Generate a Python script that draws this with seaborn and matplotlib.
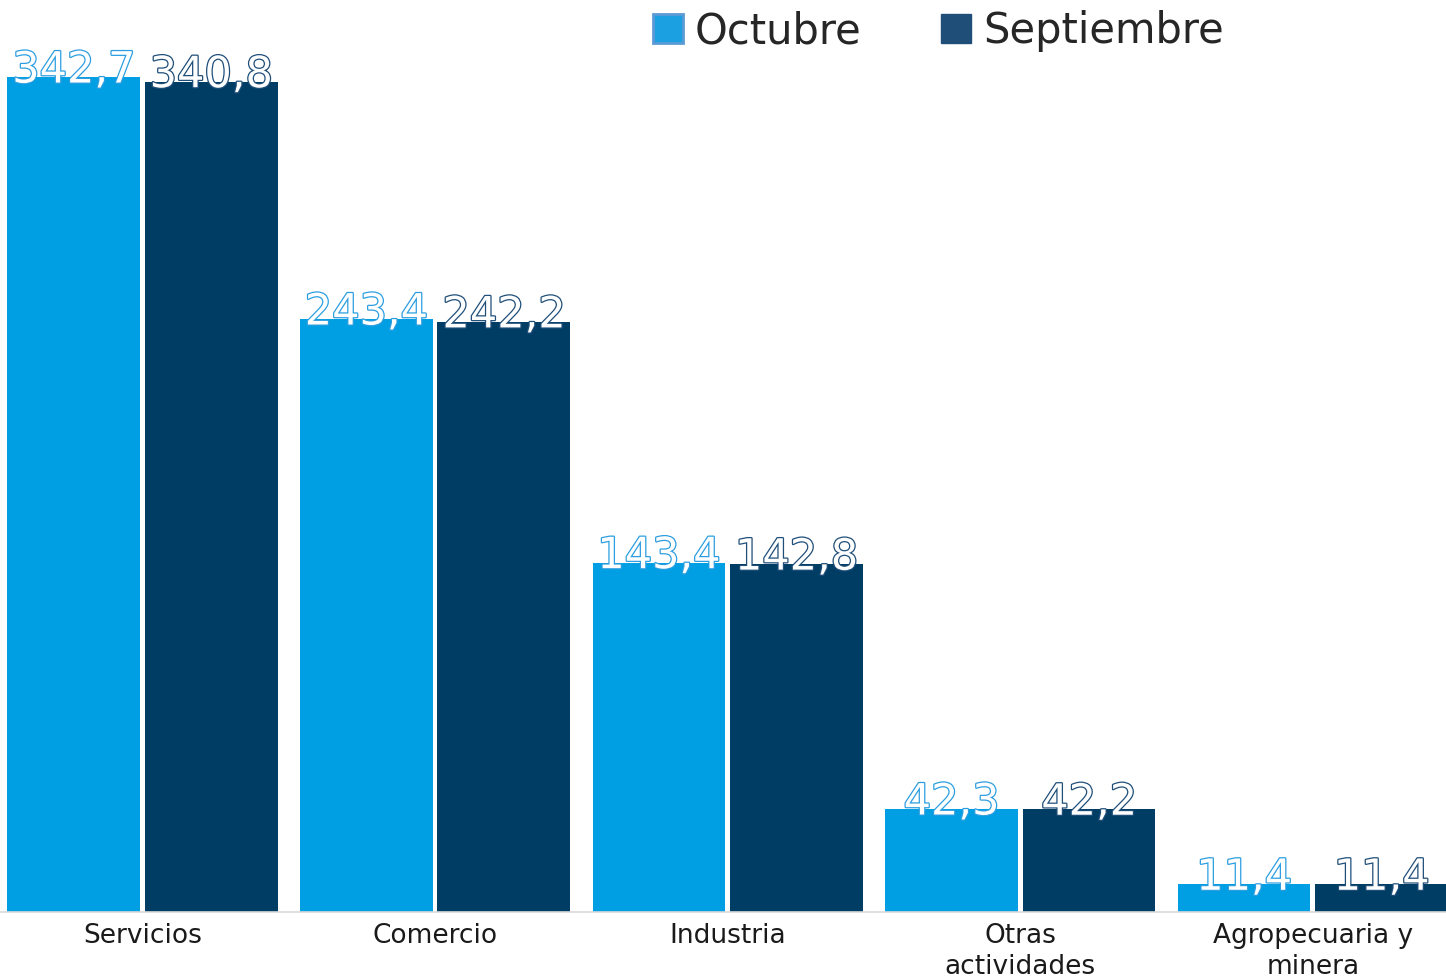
import numpy as np
import pandas as pd
import matplotlib
matplotlib.use("Agg")
import matplotlib.pyplot as plt
import matplotlib.patheffects as pe
from matplotlib.patches import Patch
import seaborn as sns

categories = ["Servicios", "Comercio", "Industria", "Otras\nactividades", "Agropecuaria y\nminera"]
series = ["Octubre", "Septiembre"]
octubre = [342.7, 243.4, 143.4, 42.3, 11.4]
septiembre = [340.8, 242.2, 142.8, 42.2, 11.4]

bar_colors = {"Octubre": "#009fe3", "Septiembre": "#003d65"}
stroke_colors = {"Octubre": "#2c9ee0", "Septiembre": "#1f4e79"}

df = pd.DataFrame({
    "categoria": categories * 2,
    "serie": ["Octubre"] * len(categories) + ["Septiembre"] * len(categories),
    "valor": octubre + septiembre,
})

sns.set_style("white")
plt.rcParams['font.family'] = ['DejaVu Sans']

fig = plt.figure(figsize=(14.46, 9.77), dpi=100)
ax = fig.add_axes([0, 65 / 977, 1, 912 / 977])

sns.barplot(data=df, x="categoria", y="valor", hue="serie", hue_order=series,
            palette=bar_colors, width=0.94, gap=0.035, saturation=1,
            linewidth=0, ax=ax, legend=False)

ax.set_xlim(-0.487, 4.455)
ax.set_ylim(0, 374.3)

# data labels: white text with coloured outline
for cont, name in zip(ax.containers, series):
    vals = octubre if name == "Octubre" else septiembre
    for bar, v in zip(cont, vals):
        txt = f"{v:.1f}".replace(".", ",")
        ax.annotate(txt, (bar.get_x() + bar.get_width() / 2, bar.get_height()),
                    xytext=(0, -4), textcoords="offset points",
                    ha="center", va="baseline", fontsize=31, color="white",
                    path_effects=[pe.withStroke(linewidth=1.8, foreground=stroke_colors[name])])

ax.set_xlabel("")
ax.set_ylabel("")
ax.set_yticks([])
for s in ["top", "right", "left"]:
    ax.spines[s].set_visible(False)
ax.spines["bottom"].set_color("#d9d9d9")
ax.spines["bottom"].set_linewidth(1.2)
ax.tick_params(axis="x", length=0, pad=8, labelsize=19, labelcolor="#1a1a1a")
for lab in ax.get_xticklabels():
    lab.set_linespacing(1.25)

handles = [Patch(facecolor="#1ba1e2", edgecolor="#5b9bd5", linewidth=2),
           Patch(facecolor="#1f4e79", edgecolor="#1f4e79")]
fig.legend(handles, series, loc="center", bbox_to_anchor=(0.649, 1 - 31 / 977),
           ncol=2, frameon=False, fontsize=30, handlelength=0.72, handleheight=0.72,
           handletextpad=0.3, columnspacing=1.9, borderpad=0)

fig.savefig("out.png", dpi=100)
